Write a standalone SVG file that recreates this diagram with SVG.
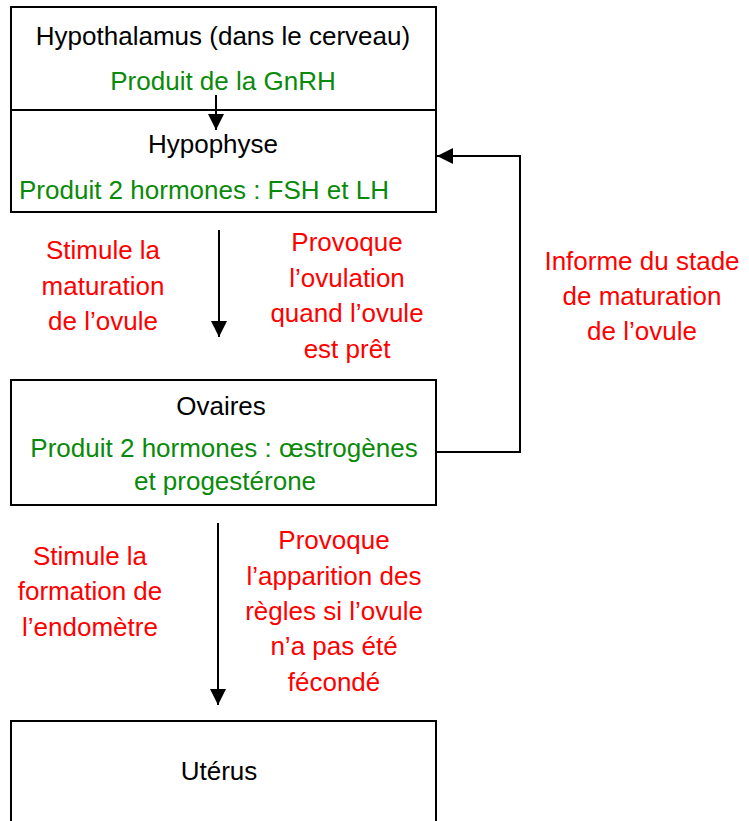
<svg xmlns="http://www.w3.org/2000/svg" width="749" height="821" viewBox="0 0 749 821">
<style>
text{font-family:"Liberation Sans",Arial,sans-serif;font-size:26px;text-anchor:middle}
.k{fill:#000}.g{fill:#0a8a0a}.r{fill:#ff0000}
.box{fill:#fff;stroke:#000;stroke-width:2}
.ln{fill:none;stroke:#000;stroke-width:2}
</style>
<defs>
<marker id="ahb" viewBox="0 0 10 10" refX="10" refY="5" markerWidth="16" markerHeight="16" markerUnits="userSpaceOnUse" orient="auto"><path d="M0,0L10,5L0,10z" fill="#000"/></marker>
</defs>
<g id="hypothalamus">
<rect class="box" x="11" y="7" width="425" height="103"/>
<text class="k" x="223" y="45">Hypothalamus (dans le cerveau)</text>
<text class="g" x="223" y="90">Produit de la GnRH</text>
</g>
<g id="hypophyse">
<rect class="box" x="11" y="110" width="425" height="102"/>
<text class="k" x="213" y="153">Hypophyse</text>
<text class="g" x="204" y="199">Produit 2 hormones : FSH et LH</text>
</g>
<g id="ovaires">
<rect class="box" x="11" y="380" width="425" height="125"/>
<text class="k" x="221" y="415">Ovaires</text>
<text class="g" x="224" y="457">Produit 2 hormones : œstrogènes</text>
<text class="g" x="225" y="490">et progestérone</text>
</g>
<g id="uterus">
<rect class="box" x="11" y="721" width="425" height="110"/>
<text class="k" x="219" y="780">Utérus</text>
</g>
<g id="connectors">
<line class="ln" x1="216" y1="95" x2="216" y2="130" marker-end="url(#ahb)"/>
<line class="ln" x1="219" y1="230" x2="219" y2="337" marker-end="url(#ahb)"/>
<line class="ln" x1="218" y1="523" x2="218" y2="705" marker-end="url(#ahb)"/>
<polyline class="ln" points="436,452 520,452 520,156 437,156" marker-end="url(#ahb)"/>
</g>
<g id="labels">
<text class="r" x="103" y="259">Stimule la</text>
<text class="r" x="103" y="295">maturation</text>
<text class="r" x="103" y="330">de l’ovule</text>
<text class="r" x="347" y="251">Provoque</text>
<text class="r" x="347" y="287">l’ovulation</text>
<text class="r" x="347" y="322">quand l’ovule</text>
<text class="r" x="347" y="358">est prêt</text>
<text class="r" x="642" y="270">Informe du stade</text>
<text class="r" x="642" y="305">de maturation</text>
<text class="r" x="642" y="340">de l’ovule</text>
<text class="r" x="90" y="565">Stimule la</text>
<text class="r" x="90" y="600">formation de</text>
<text class="r" x="90" y="636">l’endomètre</text>
<text class="r" x="334" y="549">Provoque</text>
<text class="r" x="334" y="585">l’apparition des</text>
<text class="r" x="334" y="620">règles si l’ovule</text>
<text class="r" x="334" y="655">n’a pas été</text>
<text class="r" x="334" y="691">fécondé</text>
</g>
</svg>
